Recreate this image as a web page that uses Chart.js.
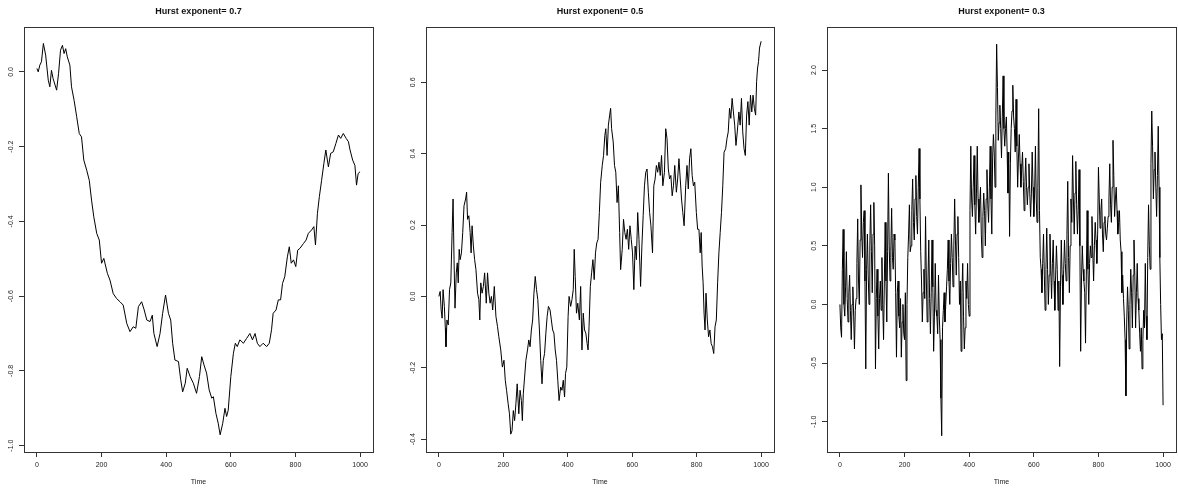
<!DOCTYPE html>
<html>
<head>
<meta charset="utf-8">
<script src="https://cdn.jsdelivr.net/npm/chart.js@4.4.1/dist/chart.umd.min.js"></script>
<style>
  body { margin: 0; background: #fff; }
  #wrap { position: relative; width: 1178px; height: 492px; }
  canvas { position: absolute; top: 0; }
</style>
</head>
<body>
<div id="wrap">
  <canvas id="p07" width="393" height="492" style="left:0px"></canvas>
  <canvas id="p05" width="393" height="492" style="left:393px"></canvas>
  <canvas id="p03" width="392" height="492" style="left:786px"></canvas>
</div>
<script>
const xTicks = [0, 200, 400, 600, 800, 1000];
const titles = ["Hurst exponent= 0.7", "Hurst exponent= 0.5", "Hurst exponent= 0.3"];

// H = 0.7
const time07 = [0,4,9,14,20,27,35,40,45,50,61,67,73,79,84,89,94,102,107,115,123,131,138,145,154,162,169,176,185,193,
  200,207,218,226,236,246,257,267,278,288,298,306,314,324,332,340,350,357,362,372,381,389,398,407,414,420,427,438,445,451,
  459,465,474,484,494,503,510,517,525,533,541,546,554,561,567,575,582,587,592,600,608,614,620,628,639,649,659,667,675,682,
  690,700,711,719,726,731,740,747,754,760,767,775,781,787,794,801,807,814,825,833,840,850,857,862,868,874,881,888,894,902,
  909,917,925,933,940,948,957,964,969,977,984,989,994,1000];
const hurst07 = [0.009,0.0,0.018,0.027,0.076,0.045,-0.022,-0.04,0.004,-0.018,-0.049,-0.004,0.058,0.071,0.049,0.062,0.04,0.018,-0.04,-0.076,
  -0.12,-0.165,-0.174,-0.236,-0.263,-0.29,-0.343,-0.388,-0.432,-0.45,-0.512,-0.499,-0.539,-0.557,-0.593,-0.606,-0.615,-0.624,-0.673,-0.695,
  -0.682,-0.686,-0.628,-0.615,-0.637,-0.664,-0.668,-0.651,-0.7,-0.735,-0.70,-0.646,-0.597,-0.646,-0.664,-0.726,-0.771,-0.775,-0.824,-0.856,
  -0.833,-0.793,-0.815,-0.833,-0.86,-0.815,-0.762,-0.784,-0.806,-0.851,-0.873,-0.869,-0.914,-0.94,-0.971,-0.94,-0.9,-0.922,-0.905,-0.815,
  -0.753,-0.726,-0.735,-0.717,-0.726,-0.713,-0.70,-0.717,-0.70,-0.726,-0.735,-0.726,-0.735,-0.726,-0.69,-0.646,-0.637,-0.61,-0.61,-0.566,
  -0.548,-0.495,-0.468,-0.512,-0.503,-0.521,-0.477,-0.472,-0.459,-0.45,-0.432,-0.423,-0.414,-0.463,-0.379,-0.334,-0.29,-0.245,-0.209,-0.254,
  -0.218,-0.214,-0.192,-0.169,-0.178,-0.165,-0.178,-0.187,-0.209,-0.236,-0.25,-0.303,-0.272,-0.267];
const yTicks07 = [0, -0.2, -0.4, -0.6, -0.8, -1.0];

// H = 0.5
const time05 = [0,4,7,10,13,17,20,22,25,29,33,37,41,44,47,50,54,57,60,63,66,70,74,78,83,86,89,93,97,100,
  103,107,111,115,120,124,127,130,134,138,142,147,151,155,159,163,167,172,177,182,186,192,197,202,206,210,215,219,223,227,
  231,235,239,243,248,252,256,259,262,266,270,275,279,283,287,291,295,299,303,307,312,316,320,324,328,332,336,340,345,349,
  353,357,361,365,369,373,378,382,386,390,393,397,401,404,409,413,417,420,423,427,431,436,440,444,448,452,456,460,463,466,
  470,474,478,482,486,490,494,498,502,507,511,515,518,522,526,530,533,536,541,545,549,553,557,561,564,569,573,577,581,585,
  589,593,597,601,605,609,613,617,621,626,630,634,638,642,646,650,654,658,663,667,671,675,679,683,687,691,695,700,704,708,
  712,716,720,724,728,732,737,741,745,749,753,757,761,766,770,774,778,782,786,790,794,799,803,807,811,814,817,820,823,826,
  829,833,837,841,845,849,853,857,861,865,869,873,877,881,885,890,894,898,902,906,910,914,918,922,926,931,935,939,943,947,
  951,955,959,963,967,971,975,979,983,986,989,992,995,1000];
const hurst05 = [0.0,0.014,-0.038,-0.061,0.019,-0.028,-0.089,-0.141,-0.066,-0.08,0.019,0.038,0.179,0.273,0.103,-0.033,0.066,0.094,0.038,0.132,
  0.103,0.122,0.179,0.254,0.273,0.292,0.216,0.226,0.179,0.122,0.198,0.141,0.103,0.075,0.009,-0.009,-0.066,0.038,0.009,0.028,
  0.066,-0.019,0.066,0.009,-0.019,0.0,-0.038,0.028,-0.056,-0.085,-0.113,-0.15,-0.198,-0.179,-0.235,-0.263,-0.301,-0.329,-0.386,-0.376,
  -0.32,-0.348,-0.301,-0.245,-0.329,-0.263,-0.292,-0.348,-0.273,-0.226,-0.179,-0.15,-0.122,-0.141,-0.094,-0.066,0.009,0.056,0.019,-0.009,
  -0.094,-0.179,-0.245,-0.179,-0.16,-0.103,-0.056,-0.028,-0.038,-0.066,-0.094,-0.103,-0.15,-0.179,-0.235,-0.292,-0.254,-0.263,-0.235,-0.282,
  -0.216,-0.198,-0.056,0.0,-0.028,-0.009,0.019,0.132,0.056,-0.047,-0.019,-0.066,0.028,-0.15,-0.047,-0.094,-0.103,-0.132,-0.15,-0.085,
  0.028,0.066,0.103,0.047,0.122,0.15,0.16,0.235,0.32,0.367,0.395,0.451,0.47,0.395,0.48,0.508,0.527,0.47,0.433,0.367,
  0.348,0.263,0.31,0.179,0.075,0.132,0.216,0.179,0.16,0.188,0.132,0.198,0.16,0.122,0.019,0.141,0.103,0.235,0.16,0.028,
  0.141,0.226,0.31,0.348,0.357,0.292,0.235,0.198,0.122,0.31,0.329,0.367,0.348,0.376,0.339,0.395,0.31,0.348,0.47,0.442,
  0.357,0.329,0.339,0.282,0.31,0.367,0.292,0.329,0.386,0.329,0.273,0.235,0.198,0.31,0.367,0.301,0.386,0.414,0.339,0.31,
  0.32,0.235,0.188,0.188,0.122,0.179,0.085,0.038,-0.047,-0.094,0.009,-0.066,-0.113,-0.094,-0.132,-0.141,-0.16,-0.085,-0.066,0.038,
  0.122,0.179,0.235,0.31,0.404,0.414,0.442,0.461,0.527,0.499,0.555,0.517,0.48,0.423,0.461,0.517,0.48,0.555,0.461,0.414,
  0.395,0.508,0.546,0.48,0.564,0.517,0.564,0.527,0.508,0.602,0.64,0.658,0.696,0.715];
const yTicks05 = [-0.4, -0.2, 0, 0.2, 0.4, 0.6];

// H = 0.3, one value every 2.5 time steps
const step03 = 2.5;
const hurst03 = [
  0.0,-0.2,-0.28,0.3, 0.64,0.0,-0.1,0.15,
  0.45,0.05,-0.15,0.1, 0.25,-0.05,-0.3,0.0,
  0.15,-0.1,-0.38,-0.05, 0.05,0.35,0.73,0.2,
  0.0,0.55,1.02,0.6, 0.4,0.7,0.8,0.2,
  -0.55,0.3,0.6,0.25, 0.0,0.5,0.85,0.45,
  0.1,0.6,0.87,0.5, -0.55,0.05,0.3,-0.1,
  -0.38,0.05,0.2,-0.05, 0.4,0.0,-0.3,0.2,
  0.7,0.2,-0.15,0.45, 1.12,0.5,0.2,0.45,
  0.82,0.4,0.3,0.6, 0.55,0.1,-0.45,0.1,
  0.2,-0.1,-0.2,0.05, -0.45,-0.15,0.0,-0.25,
  -0.3,0.1,-0.65,0.0, 0.4,0.6,0.85,0.45,
  0.5,0.8,1.07,0.7, 0.55,0.9,1.1,0.75,
  0.6,1.0,1.33,0.9, 0.45,0.2,-0.15,0.1,
  0.3,0.05,0.75,0.2, -0.15,0.2,0.55,0.05,
  -0.25,0.1,0.55,0.15, -0.4,-0.1,0.35,-0.05,
  -0.1,-0.25,0.25,-0.1, -0.3,-0.8,-1.12,-0.2,
  -0.05,0.1,-0.15,0.0, 0.15,0.3,0.55,0.2,
  0.0,0.35,0.6,0.4, 0.15,0.5,0.9,0.55,
  0.25,0.6,0.75,0.4, 0.0,0.2,-0.4,0.1,
  0.35,-0.1,-0.38,-0.2, 0.2,0.05,0.35,0.0,
  -0.1,0.8,1.35,0.9, 0.75,1.0,1.27,0.85,
  0.6,0.95,1.35,0.9, 0.7,0.85,1.0,0.6,
  0.4,0.75,0.95,0.8, 0.5,0.9,1.15,0.85,
  0.7,1.0,1.35,0.9, 0.6,1.25,1.45,1.3,
  1.0,1.6,2.22,1.85, 1.4,1.55,1.7,1.5,
  1.25,1.6,1.95,1.5, 1.35,1.5,1.6,1.3,
  0.95,1.3,0.58,1.2, 1.5,1.65,1.87,1.6,
  1.5,1.3,1.75,1.35, 1.0,1.25,1.45,1.2,
  1.0,1.15,1.3,1.05, 0.8,1.05,1.25,1.0,
  0.85,1.0,1.2,0.95, 0.75,0.95,1.3,1.0,
  0.75,0.95,1.35,0.9, 0.7,1.0,1.67,0.8,
  0.4,0.3,0.1,0.35, 0.6,0.25,-0.05,0.3,
  0.65,0.3,0.0,0.25, 0.6,0.3,0.05,0.35,
  0.55,0.2,-0.05,0.25, 0.5,0.3,-0.05,0.2,
  -0.53,0.15,0.55,0.25, 0.0,0.3,0.55,0.35,
  0.2,0.6,1.05,0.4, 0.1,0.5,0.9,0.7,
  1.27,0.9,0.6,0.95, 1.22,0.85,0.6,0.8,
  1.15,0.5,-0.4,0.2, 0.5,0.3,0.2,0.1,
  -0.33,0.25,0.8,0.3, 0.0,0.35,0.5,0.4,
  0.75,0.45,0.2,0.5, 0.7,0.55,0.35,0.6,
  1.17,0.9,0.65,0.8, 0.9,0.6,0.45,0.7,
  0.75,0.6,0.55,0.65, 0.75,0.9,1.2,0.85,
  0.7,1.0,1.4,1.1, 0.75,0.9,1.0,0.8,
  0.6,0.7,0.8,0.55, 0.45,0.1,0.25,0.05,
  -0.1,-0.3,-0.78,-0.15, 0.15,-0.05,-0.38,0.0,
  0.3,0.1,-0.2,0.25, 0.55,0.25,-0.2,0.1,
  0.35,0.05,-0.05,-0.25, -0.4,-0.2,-0.55,-0.3,
  -0.05,-0.2,0.35,-0.1, -0.3,0.4,0.85,0.5,
  0.3,1.2,1.65,1.35, 0.9,1.15,1.3,1.0,
  0.75,1.1,1.52,1.0, 0.4,0.0,-0.3,-0.25,
  -0.86];
const time03 = hurst03.map((v, i) => i * step03);
const yTicks03 = [-1.0, -0.5, 0, 0.5, 1.0, 1.5, 2.0];

const FONT = "'Liberation Sans', Arial, Helvetica, sans-serif";

// box, rotated y labels and main title, like base R plot()
const rFrame = {
  id: "rFrame",
  afterDraw(chart, args, opts) {
    const { ctx, chartArea: a } = chart;
    const yScale = chart.scales.y;
    ctx.save();
    ctx.strokeStyle = "#333";
    ctx.lineWidth = 1;
    ctx.strokeRect(Math.round(a.left) + 0.5, Math.round(a.top) + 0.5,
      Math.round(a.right - a.left), Math.round(a.bottom - a.top));

    ctx.fillStyle = "#222";
    ctx.font = "7px " + FONT;
    ctx.textAlign = "center";
    ctx.textBaseline = "middle";
    yScale.ticks.forEach((t) => {
      const py = yScale.getPixelForValue(t.value);
      ctx.save();
      ctx.translate(a.left - 13, py);
      ctx.rotate(-Math.PI / 2);
      ctx.fillText(t.value.toFixed(1), 0, 0);
      ctx.restore();
    });

    ctx.fillStyle = "#111";
    ctx.font = "bold 9px " + FONT;
    ctx.fillText(opts.text, (a.left + a.right) / 2, 12);
    ctx.restore();
  },
};

function makePanel(id, times, values, yMin, yMax, yTicks, title, leftW, padRight) {
  const points = times.map((t, i) => ({ x: t, y: values[i] }));
  const grid = { drawOnChartArea: false, drawTicks: true, tickLength: 5, color: "#333" };
  return new Chart(document.getElementById(id), {
    type: "line",
    data: {
      datasets: [
        {
          data: points,
          borderColor: "#000",
          borderWidth: 1,
          pointRadius: 0,
          tension: 0,
          fill: false,
        },
      ],
    },
    options: {
      responsive: false,
      animation: false,
      layout: { padding: { top: 27, right: padRight, left: 0, bottom: 0 } },
      plugins: {
        legend: { display: false },
        tooltip: { enabled: false },
        rFrame: { text: title },
      },
      scales: {
        x: {
          type: "linear",
          min: -40,
          max: 1040,
          afterBuildTicks: (s) => { s.ticks = xTicks.map((v) => ({ value: v })); },
          afterFit: (s) => { s.height = 40; },
          grid: grid,
          border: { display: false },
          ticks: {
            font: { size: 7, family: FONT },
            color: "#222",
            padding: 4,
            maxRotation: 0,
            autoSkip: false,
            callback: (v) => String(v),
          },
          title: {
            display: true,
            text: "Time",
            font: { size: 7, family: FONT },
            color: "#222",
            padding: { top: 4, bottom: 6 },
          },
        },
        y: {
          type: "linear",
          min: yMin,
          max: yMax,
          afterBuildTicks: (s) => { s.ticks = yTicks.map((v) => ({ value: v })); },
          afterFit: (s) => { s.width = leftW; },
          grid: grid,
          border: { display: false },
          ticks: { display: false },
        },
      },
    },
    plugins: [rFrame],
  });
}

makePanel("p07", time07, hurst07, -1.017, 0.12, yTicks07, titles[0], 24, 20);
makePanel("p05", time05, hurst05, -0.436, 0.755, yTicks05, titles[1], 33, 12);
makePanel("p03", time03, hurst03, -1.259, 2.367, yTicks03, titles[2], 41, 2);
</script>
</body>
</html>
